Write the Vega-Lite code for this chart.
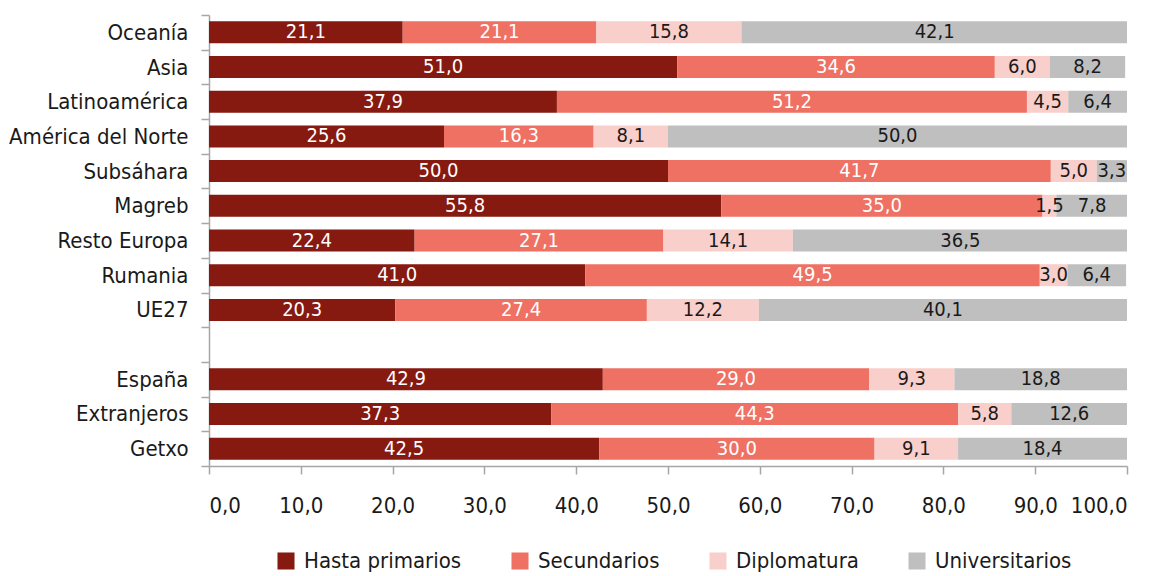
{
  "$schema": "https://vega.github.io/schema/vega-lite/v6.json",
  "width": 918,
  "height": 451,
  "autosize": {"type": "none"},
  "padding": {"left": 209, "top": 15, "right": 32, "bottom": 110},
  "config": {
    "view": {"stroke": null},
    "locale": {"number": {"decimal": ",", "thousands": ".", "grouping": [3], "currency": ["", " €"]}},
    "font": "DejaVu Sans Condensed"
  },
  "data": {"values": [
    {"region": "Oceanía", "nivel": "Hasta primarios", "orden": 1, "valor": 21.1},
    {"region": "Oceanía", "nivel": "Secundarios", "orden": 2, "valor": 21.1},
    {"region": "Oceanía", "nivel": "Diplomatura", "orden": 3, "valor": 15.8},
    {"region": "Oceanía", "nivel": "Universitarios", "orden": 4, "valor": 42.1},
    {"region": "Asia", "nivel": "Hasta primarios", "orden": 1, "valor": 51.0},
    {"region": "Asia", "nivel": "Secundarios", "orden": 2, "valor": 34.6},
    {"region": "Asia", "nivel": "Diplomatura", "orden": 3, "valor": 6.0},
    {"region": "Asia", "nivel": "Universitarios", "orden": 4, "valor": 8.2},
    {"region": "Latinoamérica", "nivel": "Hasta primarios", "orden": 1, "valor": 37.9},
    {"region": "Latinoamérica", "nivel": "Secundarios", "orden": 2, "valor": 51.2},
    {"region": "Latinoamérica", "nivel": "Diplomatura", "orden": 3, "valor": 4.5},
    {"region": "Latinoamérica", "nivel": "Universitarios", "orden": 4, "valor": 6.4},
    {"region": "América del Norte", "nivel": "Hasta primarios", "orden": 1, "valor": 25.6},
    {"region": "América del Norte", "nivel": "Secundarios", "orden": 2, "valor": 16.3},
    {"region": "América del Norte", "nivel": "Diplomatura", "orden": 3, "valor": 8.1},
    {"region": "América del Norte", "nivel": "Universitarios", "orden": 4, "valor": 50.0},
    {"region": "Subsáhara", "nivel": "Hasta primarios", "orden": 1, "valor": 50.0},
    {"region": "Subsáhara", "nivel": "Secundarios", "orden": 2, "valor": 41.7},
    {"region": "Subsáhara", "nivel": "Diplomatura", "orden": 3, "valor": 5.0},
    {"region": "Subsáhara", "nivel": "Universitarios", "orden": 4, "valor": 3.3},
    {"region": "Magreb", "nivel": "Hasta primarios", "orden": 1, "valor": 55.8},
    {"region": "Magreb", "nivel": "Secundarios", "orden": 2, "valor": 35.0},
    {"region": "Magreb", "nivel": "Diplomatura", "orden": 3, "valor": 1.5},
    {"region": "Magreb", "nivel": "Universitarios", "orden": 4, "valor": 7.8},
    {"region": "Resto Europa", "nivel": "Hasta primarios", "orden": 1, "valor": 22.4},
    {"region": "Resto Europa", "nivel": "Secundarios", "orden": 2, "valor": 27.1},
    {"region": "Resto Europa", "nivel": "Diplomatura", "orden": 3, "valor": 14.1},
    {"region": "Resto Europa", "nivel": "Universitarios", "orden": 4, "valor": 36.5},
    {"region": "Rumania", "nivel": "Hasta primarios", "orden": 1, "valor": 41.0},
    {"region": "Rumania", "nivel": "Secundarios", "orden": 2, "valor": 49.5},
    {"region": "Rumania", "nivel": "Diplomatura", "orden": 3, "valor": 3.0},
    {"region": "Rumania", "nivel": "Universitarios", "orden": 4, "valor": 6.4},
    {"region": "UE27", "nivel": "Hasta primarios", "orden": 1, "valor": 20.3},
    {"region": "UE27", "nivel": "Secundarios", "orden": 2, "valor": 27.4},
    {"region": "UE27", "nivel": "Diplomatura", "orden": 3, "valor": 12.2},
    {"region": "UE27", "nivel": "Universitarios", "orden": 4, "valor": 40.1},
    {"region": "España", "nivel": "Hasta primarios", "orden": 1, "valor": 42.9},
    {"region": "España", "nivel": "Secundarios", "orden": 2, "valor": 29.0},
    {"region": "España", "nivel": "Diplomatura", "orden": 3, "valor": 9.3},
    {"region": "España", "nivel": "Universitarios", "orden": 4, "valor": 18.8},
    {"region": "Extranjeros", "nivel": "Hasta primarios", "orden": 1, "valor": 37.3},
    {"region": "Extranjeros", "nivel": "Secundarios", "orden": 2, "valor": 44.3},
    {"region": "Extranjeros", "nivel": "Diplomatura", "orden": 3, "valor": 5.8},
    {"region": "Extranjeros", "nivel": "Universitarios", "orden": 4, "valor": 12.6},
    {"region": "Getxo", "nivel": "Hasta primarios", "orden": 1, "valor": 42.5},
    {"region": "Getxo", "nivel": "Secundarios", "orden": 2, "valor": 30.0},
    {"region": "Getxo", "nivel": "Diplomatura", "orden": 3, "valor": 9.1},
    {"region": "Getxo", "nivel": "Universitarios", "orden": 4, "valor": 18.4}
  ]},
  "encoding": {
    "y": {
      "field": "region", "type": "nominal", "title": null,
      "scale": {
        "domain": ["Oceanía", "Asia", "Latinoamérica", "América del Norte", "Subsáhara", "Magreb", "Resto Europa", "Rumania", "UE27", " ", "España", "Extranjeros", "Getxo"],
        "paddingInner": 0, "paddingOuter": 0
      },
      "axis": {
        "tickBand": "extent", "domainColor": "#A6A6A6", "tickColor": "#A6A6A6", "tickSize": 8,
        "labelFontSize": 22, "labelColor": "#1a1a1a", "labelPadding": 13, "labelLimit": 0,
        "domainWidth": 1.5, "tickWidth": 1.5
      }
    },
    "x": {
      "field": "valor", "type": "quantitative", "stack": "zero", "title": null,
      "scale": {"domain": [0, 100], "nice": false},
      "axis": {
        "values": [0, 10, 20, 30, 40, 50, 60, 70, 80, 90, 100], "format": ".1f",
        "grid": false, "domainColor": "#A6A6A6", "tickColor": "#A6A6A6", "tickSize": 8,
        "labelFontSize": 22, "labelColor": "#1a1a1a", "labelPadding": 21, "domainWidth": 1.5, "tickWidth": 1.5
      }
    },
    "order": {"field": "orden", "type": "quantitative"}
  },
  "layer": [
    {
      "mark": {"type": "bar", "height": {"band": 0.634}, "clip": true},
      "encoding": {
        "color": {
          "field": "nivel", "type": "nominal", "title": null,
          "scale": {
            "domain": ["Hasta primarios", "Secundarios", "Diplomatura", "Universitarios"],
            "range": ["#861A10", "#EE7163", "#F9CFCB", "#BFBFBF"]
          },
          "legend": {
            "orient": "none", "direction": "horizontal", "legendX": 66, "legendY": 535,
            "symbolType": "square", "symbolSize": 290, "symbolStrokeWidth": 0,
            "labelFontSize": 22, "labelColor": "#1a1a1a", "labelOffset": 7,
            "columnPadding": 47, "padding": 0
          }
        }
      }
    },
    {
      "mark": {"type": "text", "fontSize": 20, "baseline": "middle", "align": "center"},
      "encoding": {
        "x": {"field": "valor", "type": "quantitative", "stack": "zero", "bandPosition": 0.5},
        "detail": {"field": "nivel", "type": "nominal"},
        "text": {"field": "valor", "type": "quantitative", "format": ".1f"},
        "color": {
          "condition": {"test": "datum.nivel == 'Hasta primarios' || datum.nivel == 'Secundarios'", "value": "white"},
          "value": "#1a1a1a"
        }
      }
    }
  ]
}
